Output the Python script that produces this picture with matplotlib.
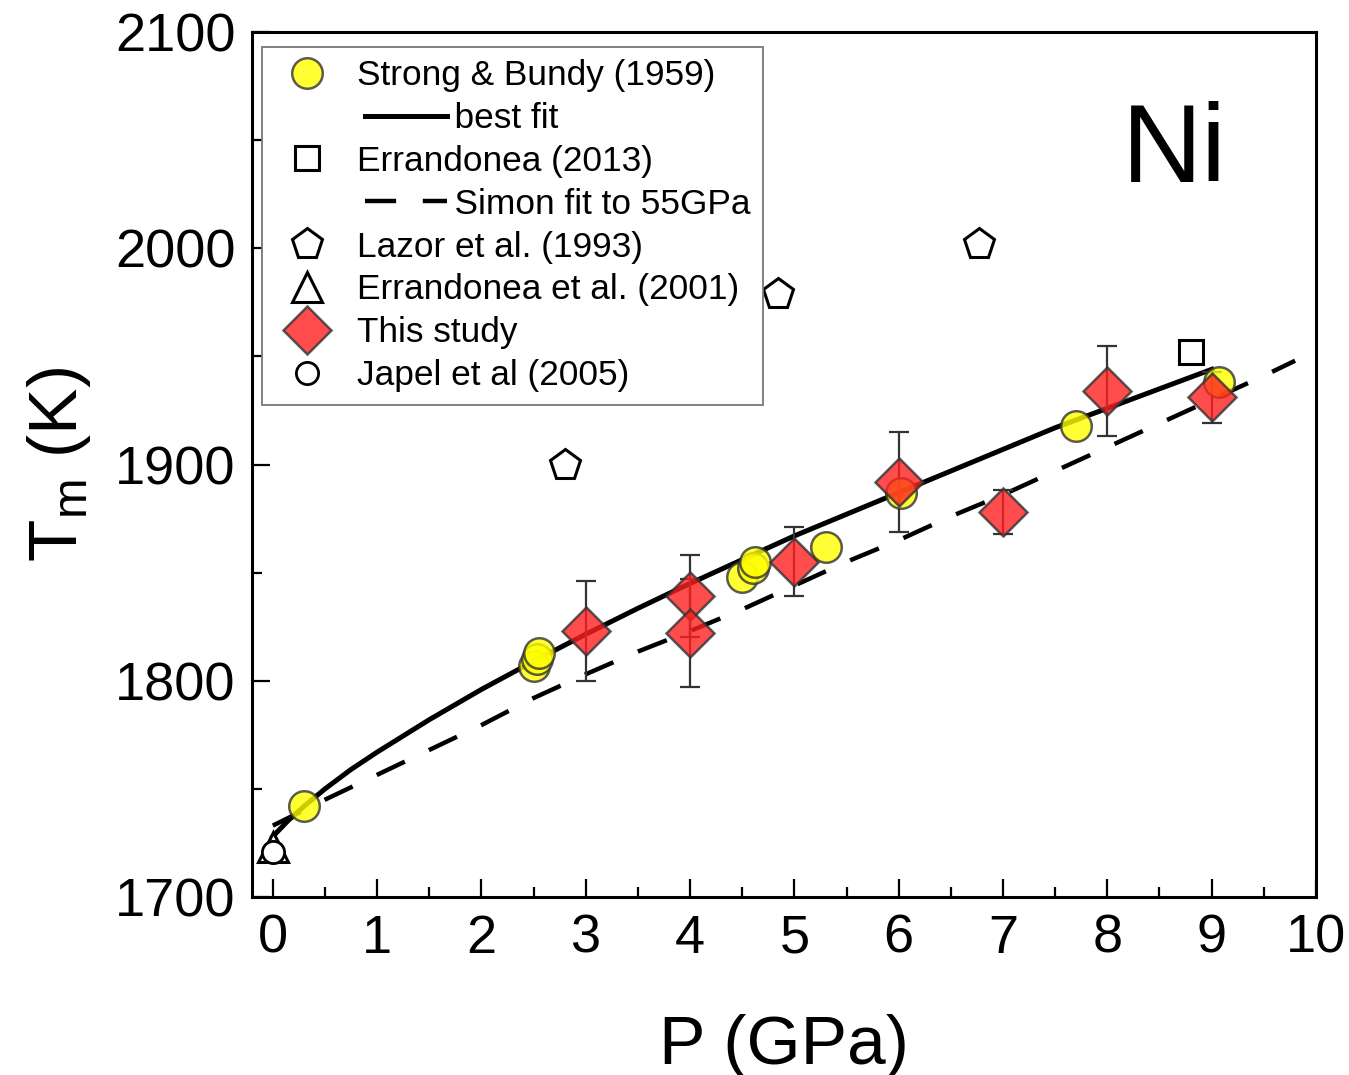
"""Ni melting curve: Tm vs P with literature data and fits."""

import matplotlib
matplotlib.use("Agg")
import matplotlib.pyplot as plt
from matplotlib.lines import Line2D
from matplotlib.legend_handler import HandlerBase

plt.rcParams["font.family"] = ["Liberation Sans", "DejaVu Sans"]
plt.rcParams["mathtext.fontset"] = "custom"
plt.rcParams["mathtext.rm"] = "Liberation Sans"
plt.rcParams["mathtext.it"] = "Liberation Sans"

# Strong & Bundy (1959)
sb_p = [0.3, 2.5, 2.53, 2.55, 4.5, 4.6, 4.62, 5.3, 6.02, 7.7, 9.07]
sb_t = [1742, 1807, 1810, 1813, 1848, 1852, 1855, 1862, 1887, 1918, 1938]

# This study
ts_p = [3, 4, 4, 5, 6, 7, 8, 9]
ts_t = [1823, 1839, 1822, 1855, 1892, 1878, 1934, 1931]
ts_err = [23, 19, 25, 16, 23, 10, 21, 12]

# Lazor et al. (1993)
lz_p = [2.8, 4.84, 6.77]
lz_t = [1900, 1979, 2002]

# Errandonea (2013)
er13_p = [8.8]
er13_t = [1952]

# Errandonea et al. (2001)
er01_p = [0.0]
er01_t = [1723]

# Japel et al (2005)
jp_p = [0.0]
jp_t = [1721]

# best fit curve
fit_p = [0, 0.15, 0.3, 0.5, 0.75, 1, 1.5, 2, 2.5, 3, 3.5, 4, 4.5, 5, 5.5, 6,
         6.5, 7, 7.5, 8, 8.5, 9]
fit_t = [1728, 1735.5, 1742, 1750, 1759, 1767, 1782, 1796, 1809, 1821.5, 1833.5,
         1845, 1856, 1867, 1877, 1887, 1897, 1907, 1917, 1926, 1935, 1944]

# Simon fit to 55GPa
sim_p = [0, 0.5, 1, 1.5, 2, 2.5, 3, 3.5, 4, 4.5, 5, 5.5, 6, 6.5, 7, 7.5, 8, 8.5,
         9, 9.5, 9.8]
sim_t = [1733, 1745, 1756.5, 1768, 1779.5, 1792, 1803, 1813.5, 1823, 1833, 1844,
         1855, 1865, 1876, 1886, 1897, 1908, 1919, 1930, 1941, 1948]


class OffsetLine(HandlerBase):
    """Legend line drawn to the right of the marker column (Origin style)."""

    def create_artists(self, legend, orig_handle, xdescent, ydescent, width,
                       height, fontsize, trans):
        y = height / 2 - ydescent
        ln = Line2D([2.58 * fontsize - xdescent, 4.9 * fontsize - xdescent], [y, y])
        ln.update_from(orig_handle)
        ln.set_transform(trans)
        return [ln]


fig = plt.figure(figsize=(13.49, 10.75), dpi=100)
ax = fig.add_axes([0.1868, 0.1656, 0.7887, 0.8046])

edge = "#333333"
lfit, = ax.plot(fit_p, fit_t, color="black", lw=3.6, zorder=2)
lsim, = ax.plot(sim_p, sim_t, color="black", lw=3.2, ls=(0, (7, 6)), zorder=2)

ax.errorbar(ts_p, ts_t, yerr=ts_err, fmt="none", ecolor=edge, elinewidth=1.6,
            capsize=7, capthick=1.6, zorder=3)
hsb, = ax.plot(sb_p, sb_t, "o", ms=22, mfc="#ffff00", mec=edge, mew=1.8,
               alpha=0.8, ls="none", zorder=4)
hts, = ax.plot(ts_p, ts_t, "D", ms=24, mfc="#ff2020", mec=edge, mew=1.8,
               alpha=0.8, ls="none", zorder=5)
hlz, = ax.plot(lz_p, lz_t, "p", ms=23, mfc="white", mec="black", mew=2.2,
               ls="none", zorder=4)
her13, = ax.plot(er13_p, er13_t, "s", ms=17, mfc="white", mec="black", mew=2.2,
                 ls="none", zorder=4)
her01, = ax.plot(er01_p, er01_t, "^", ms=22, mfc="white", mec="black", mew=2.2,
                 ls="none", zorder=4)
hjp, = ax.plot(jp_p, jp_t, "o", ms=16, mfc="white", mec="black", mew=2.0,
               ls="none", zorder=5)

ax.set_xlim(-0.2, 10)
ax.set_ylim(1700, 2100)
ax.set_xticks(range(0, 11))
ax.set_xticks([i + 0.5 for i in range(0, 10)], minor=True)
ax.set_yticks([1700, 1800, 1900, 2000, 2100])
ax.set_yticks([1750, 1850, 1950, 2050], minor=True)
ax.tick_params(which="both", direction="in", top=False, right=False, width=1.6,
               labelsize=39)
ax.tick_params(which="major", length=13, pad=12)
ax.tick_params(which="minor", length=7)
for s in ax.spines.values():
    s.set_linewidth(2.2)

ax.set_xlabel("P (GPa)", fontsize=50, labelpad=36)
ax.set_ylabel(r"T$_\mathrm{m}$ (K)", fontsize=50, labelpad=16)

ax.text(8.64, 2030.6, "Ni", fontsize=80, ha="center", va="baseline")

pad = " " * 10
leg = ax.legend(
    [hsb, lfit, her13, lsim, hlz, her01, hts, hjp],
    ["Strong & Bundy (1959)", pad + "best fit", "Errandonea (2013)",
     pad + "Simon fit to 55GPa", "Lazor et al. (1993)",
     "Errandonea et al. (2001)", "This study", "Japel et al (2005)"],
    handler_map={lfit: OffsetLine(), lsim: OffsetLine()},
    loc="upper left", bbox_to_anchor=(0.0094, 0.983), borderaxespad=0,
    fontsize=25.4, numpoints=1, handlelength=1.87, handletextpad=0.48,
    borderpad=0.35, labelspacing=0.28, fancybox=False, framealpha=1,
    edgecolor="#777777",
)
leg.get_frame().set_linewidth(1.3)

fig.savefig("out.png", dpi=100)
